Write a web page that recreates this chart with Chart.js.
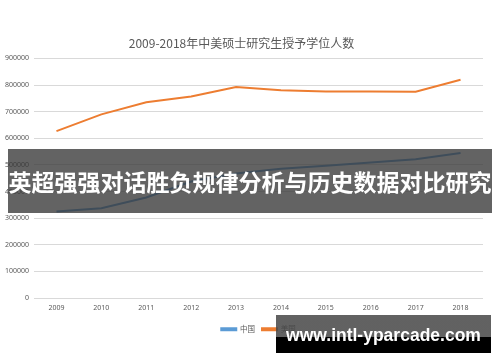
<!DOCTYPE html>
<html>
<head>
<meta charset="utf-8">
<script src="https://cdn.jsdelivr.net/npm/chart.js@4/dist/chart.umd.min.js"></script>
<style>
  body { margin: 0; background: #fff; }
  #wrap { position: relative; width: 500px; height: 362px; }
  .band {
    position: absolute; left: 8px; top: 149px; width: 484px; height: 64px;
    background: rgba(55, 55, 55, 0.78);
    color: #fff; font: bold 23px "Noto Sans CJK SC", sans-serif;
    line-height: 64px; text-align: center; white-space: nowrap;
  }
  .mark {
    position: absolute; left: 276px; top: 315px; width: 215px; height: 38px;
    background: linear-gradient(to bottom, rgba(70,70,70,0.85) 0, rgba(70,70,70,0.85) 22px, #000 22px);
    color: #fff; font: bold 17.5px "Liberation Sans", sans-serif;
    line-height: 40px; text-align: center; white-space: nowrap;
  }
</style>
</head>
<body>
<div id="wrap">
  <canvas id="myChart" width="500" height="362"></canvas>
  <div class="band">英超强强对话胜负规律分析与历史数据对比研究</div>
  <div class="mark">www.intl-yparcade.com</div>
</div>
<script>
const years = ["2009", "2010", "2011", "2012", "2013", "2014", "2015", "2016", "2017", "2018"];
const china = [325000, 337000, 378000, 438000, 468000, 486000, 497000, 509000, 521000, 545000];
const usa = [627000, 690000, 735000, 757000, 793000, 780000, 776000, 776000, 775000, 820000];
const yTicks = [0, 100000, 200000, 300000, 400000, 500000, 600000, 700000, 800000, 900000];

const chart = new Chart(document.getElementById("myChart"), {
  type: "line",
  data: {
    labels: years,
    datasets: [
      {
        label: "中国",
        data: china,
        borderColor: "#5b9bd5",
        backgroundColor: "#5b9bd5",
        borderWidth: 2,
        pointRadius: 0,
        tension: 0,
      },
      {
        label: "美国",
        data: usa,
        borderColor: "#ed7d31",
        backgroundColor: "#ed7d31",
        borderWidth: 2,
        pointRadius: 0,
        tension: 0,
      },
    ],
  },
  options: {
    responsive: false,
    animation: false,
    layout: { padding: { left: 0, right: 17, top: 36, bottom: 19 } },
    plugins: {
      title: {
        display: true,
        text: "2009-2018年中美硕士研究生授予学位人数",
        color: "#595959",
        font: { family: "Noto Sans CJK SC", size: 12, weight: "normal" },
        padding: { top: 0, bottom: 8 },
      },
      legend: {
        position: "bottom",
        fullSize: false,
        labels: {
          boxWidth: 15,
          boxHeight: 2,
          padding: 7,
          color: "#595959",
          font: { family: "Noto Sans CJK SC", size: 7.5 },
        },
      },
      tooltip: { enabled: false },
    },
    scales: {
      x: {
        offset: true,
        grid: { display: false, drawTicks: false },
        border: { display: false },
        ticks: { color: "#595959", font: { family: "Noto Sans", size: 7 }, padding: 6 },
      },
      y: {
        min: 0,
        max: 900000,
        afterBuildTicks: (axis) => { axis.ticks = yTicks.map((v) => ({ value: v })); },
        grid: { color: "#d9d9d9", drawTicks: false },
        border: { display: false },
        ticks: {
          color: "#595959",
          font: { family: "Noto Sans", size: 7 },
          padding: 5,
          callback: (v) => String(v),
        },
      },
    },
  },
});
</script>
</body>
</html>
